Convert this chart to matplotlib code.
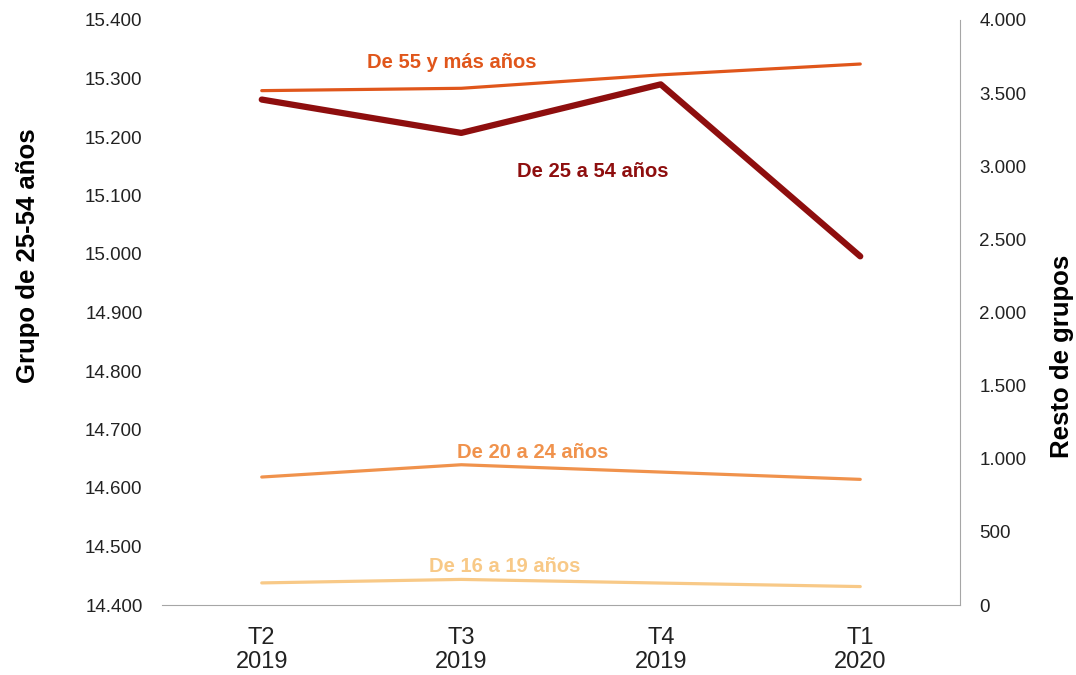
import matplotlib.pyplot as plt

plt.rcParams['font.family'] = ['Liberation Sans', 'DejaVu Sans']

# datos
periodos = ['T2\n2019', 'T3\n2019', 'T4\n2019', 'T1\n2020']
g25_54 = [15264, 15207, 15290, 14996]      # eje izquierdo
g55_mas = [3517, 3533, 3625, 3699]         # eje derecho
g20_24 = [875, 959, 909, 859]
g16_19 = [151, 175, 150, 126]

c55 = '#E0561B'
c25 = '#8E0E0E'
c20 = '#F0924C'
c16 = '#F8C987'

fig = plt.figure(figsize=(10.76, 6.75), dpi=100)
ax = fig.add_axes([162 / 1076, 1 - 605 / 675, (960 - 162) / 1076, (605 - 20) / 675])
ax2 = ax.twinx()

x = range(len(periodos))
ax2.plot(x, g55_mas, color=c55, lw=2.3, solid_capstyle='round')
ax2.plot(x, g20_24, color=c20, lw=2.3, solid_capstyle='round')
ax2.plot(x, g16_19, color=c16, lw=2.3, solid_capstyle='round')
ax.plot(x, g25_54, color=c25, lw=4.5, solid_capstyle='round', zorder=5)
ax.set_zorder(ax2.get_zorder() + 1)
ax.patch.set_visible(False)

ax.set_xlim(-0.5, 3.5)
ax.set_ylim(14400, 15400)
ax.set_yticks(range(14400, 15401, 100))
ax.set_yticklabels(['{:,}'.format(v).replace(',', '.') for v in range(14400, 15401, 100)])
ax2.set_ylim(0, 4000)
ax2.set_yticks(range(0, 4001, 500))
ax2.set_yticklabels(['{:,}'.format(v).replace(',', '.') for v in range(0, 4001, 500)])
ax.set_xticks(list(x))
ax.set_xticklabels(periodos, linespacing=1.1)

for a in (ax, ax2):
    for s in ('top', 'left', 'right'):
        a.spines[s].set_visible(False)
    a.tick_params(length=0, labelsize=13.5, colors='#222222')
ax.spines['bottom'].set_color('#a6a6a6')
ax2.spines['bottom'].set_visible(False)
ax2.spines['right'].set_visible(True)
ax2.spines['right'].set_color('#a6a6a6')
ax.tick_params(axis='y', pad=14)
ax2.tick_params(axis='y', pad=14)
ax.tick_params(axis='x', pad=16, labelsize=17)

# titulos de ejes
fig.text(28 / 1076, 1 - 256 / 675, 'Grupo de 25-54 años', fontsize=18.5, fontweight='bold',
         rotation=90, ha='center', va='center')
fig.text(1062 / 1076, 1 - 356 / 675, 'Resto de grupos', fontsize=18.5, fontweight='bold',
         rotation=90, ha='center', va='center')

# etiquetas de series
fs = 14.5
fig.text(452 / 1076, 1 - 62 / 675, 'De 55 y más años', color=c55, fontsize=fs, fontweight='bold', ha='center', va='center')
fig.text(593 / 1076, 1 - 171 / 675, 'De 25 a 54 años', color=c25, fontsize=fs, fontweight='bold', ha='center', va='center')
fig.text(533 / 1076, 1 - 453 / 675, 'De 20 a 24 años', color=c20, fontsize=fs, fontweight='bold', ha='center', va='center')
fig.text(505 / 1076, 1 - 566 / 675, 'De 16 a 19 años', color=c16, fontsize=fs, fontweight='bold', ha='center', va='center')

plt.savefig('out.png', dpi=100)
